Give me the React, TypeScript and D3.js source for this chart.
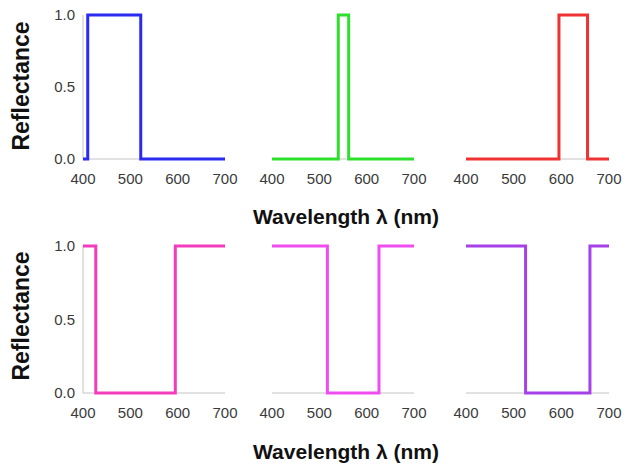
import React, { useRef, useEffect } from 'react';
import * as d3 from 'd3';

// step edges (nm) and reflectance after each edge
const blueEdges = [400, 410, 522, 700];
const blueValues = [0, 1, 0, 0];
const greenEdges = [400, 540, 562, 700];
const greenValues = [0, 1, 0, 0];
const redEdges = [400, 595, 655, 700];
const redValues = [0, 1, 0, 0];
const pinkEdges = [400, 427, 595, 700];
const pinkValues = [1, 0, 1, 1];
const magentaEdges = [400, 517, 626, 700];
const magentaValues = [1, 0, 1, 1];
const purpleEdges = [400, 525, 660, 700];
const purpleValues = [1, 0, 1, 1];

const xTicks = [400, 500, 600, 700];
const yTicks = [0, 0.5, 1];

const panels = [
  { edges: blueEdges, values: blueValues, color: '#2a2af0', row: 0, col: 0 },
  { edges: greenEdges, values: greenValues, color: '#2ee02e', row: 0, col: 1 },
  { edges: redEdges, values: redValues, color: '#f03232', row: 0, col: 2 },
  { edges: pinkEdges, values: pinkValues, color: '#f23cbc', row: 1, col: 0 },
  { edges: magentaEdges, values: magentaValues, color: '#f04cf0', row: 1, col: 1 },
  { edges: purpleEdges, values: purpleValues, color: '#a640e8', row: 1, col: 2 },
];

const App = () => {
  const svgRef = useRef(null);

  useEffect(() => {
    const width = 627;
    const height = 467;
    const svg = d3.select(svgRef.current);
    svg.selectAll('*').remove();
    svg.attr('width', width).attr('height', height);

    const colX = [[83, 225], [272, 414], [466, 609]];
    const rowY = [[159, 15], [393, 246]];
    const font = 'Liberation Sans, Arial, sans-serif';

    panels.forEach(p => {
      const x = d3.scaleLinear().domain([400, 700]).range(colX[p.col]);
      const y = d3.scaleLinear().domain([0, 1]).range(rowY[p.row]);
      const g = svg.append('g');

      // x axis
      g.append('line')
        .attr('x1', x(400)).attr('x2', x(700))
        .attr('y1', y(0)).attr('y2', y(0))
        .attr('stroke', '#c4c4c4').attr('stroke-width', 1);
      g.selectAll('text.xt')
        .data(xTicks)
        .join('text')
        .attr('x', d => x(d))
        .attr('y', y(0) + 25)
        .attr('text-anchor', 'middle')
        .style('font-family', font)
        .style('font-size', '15px')
        .attr('fill', '#3a3a3a')
        .text(d => d);

      if (p.col === 0) {
        g.append('line')
          .attr('x1', x(400)).attr('x2', x(400))
          .attr('y1', y(0)).attr('y2', y(1))
          .attr('stroke', '#c4c4c4').attr('stroke-width', 1);
        g.selectAll('text.yt')
          .data(yTicks)
          .join('text')
          .attr('x', x(400) - 8)
          .attr('y', d => y(d) + 5)
          .attr('text-anchor', 'end')
          .style('font-family', font)
          .style('font-size', '15px')
          .attr('fill', '#3a3a3a')
          .text(d => d.toFixed(1));
      }

      const pts = p.edges.map((e, i) => [e, p.values[i]]);
      const line = d3.line()
        .x(d => x(d[0]))
        .y(d => y(d[1]))
        .curve(d3.curveStepAfter);
      g.append('path')
        .attr('d', line(pts))
        .attr('fill', 'none')
        .attr('stroke', p.color)
        .attr('stroke-width', 3)
        .attr('stroke-linejoin', 'miter');
    });

    // axis titles
    [[86, 224], [316, 459]].forEach(([yc, base]) => {
      svg.append('text')
        .attr('transform', `translate(29, ${yc}) rotate(-90)`)
        .attr('text-anchor', 'middle')
        .style('font-family', font)
        .style('font-size', '23px')
        .style('font-weight', 'bold')
        .attr('fill', '#111')
        .text('Reflectance');
      svg.append('text')
        .attr('x', 346)
        .attr('y', base)
        .attr('text-anchor', 'middle')
        .style('font-family', font)
        .style('font-size', '21px')
        .style('font-weight', 'bold')
        .attr('fill', '#111')
        .text('Wavelength λ (nm)');
    });
  }, []);

  return <svg ref={svgRef} style={{ position: 'absolute', left: 0, top: 0, background: '#fff' }}></svg>;
};

export default App;
